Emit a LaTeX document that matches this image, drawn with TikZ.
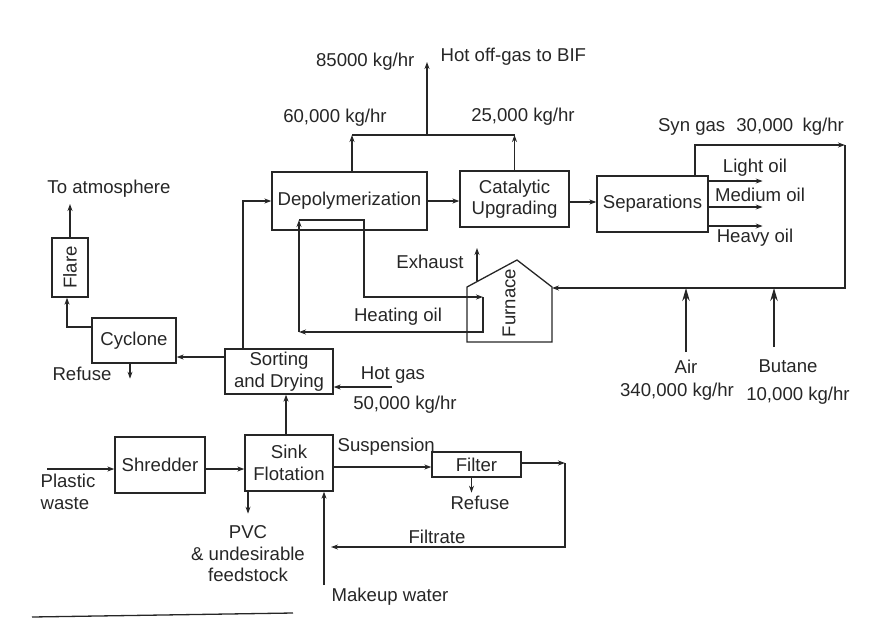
\documentclass[tikz,border=0pt]{standalone}
\usepackage{fontspec}
\setmainfont{Liberation Sans}
\usetikzlibrary{arrows.meta,calc}

\begin{document}
\begin{tikzpicture}[x=1pt,y=-1pt,line width=1.3pt,color=black!85,
        font=\fontsize{18.6}{21.5}\selectfont,
        unit/.style={draw,inner sep=2pt,align=center},
        lbl/.style={inner sep=0pt,align=center},
        flow/.style={-{Stealth[length=7pt,width=5pt]}},
        feed/.style={-{Stealth[length=13pt,width=7.5pt]}}]
        \useasboundingbox (0,0) rectangle (870,619);
        \node[unit,minimum width=155pt,minimum height=58pt] (depol) at (349.5,201) {Depolymerization};
        \node[unit,minimum width=109pt,minimum height=56pt] (catal) at (514.5,199) {Catalytic\\Upgrading};
        \node[unit,minimum width=111pt,minimum height=56pt] (separ) at (652.5,204) {Separations};
        \node[unit,minimum width=36pt,minimum height=59pt] (flare) at (70,267.5) {\rotatebox{90}{Flare}};
        \node[unit,minimum width=84pt,minimum height=45pt] (cyclone) at (134,340.5) {Cyclone};
        \node[unit,minimum width=108pt,minimum height=45pt] (sortdry) at (279,371.5) {Sorting\\and Drying};
        \node[unit,minimum width=90pt,minimum height=56pt] (shred) at (160,465) {Shredder};
        \node[unit,minimum width=88pt,minimum height=56pt] (sink) at (289,463) {Sink\\Flotation};
        \node[unit,minimum width=89pt,minimum height=25pt] (filter) at (476.5,464.5) {Filter};
        \draw (467,342) -- (467,287) -- (517,260) -- (552,287) -- (552,342) -- cycle;
        \node[lbl] (furnace) at (509,303) {\rotatebox{90}{Furnace}};
        \draw[flow] (depol.east) -- (depol.east -| catal.west);
        \draw[flow] ([yshift=-3pt]catal.east) -- ([yshift=-3pt]catal.east -| separ.west);
        \coordinate (offgas) at (427,135);
        \coordinate (offgasend) at (427,62);
        \draw[flow] ([xshift=2.5pt]depol.north) -- ([xshift=2.5pt]depol.north |- offgas);
        \draw[flow] (catal.north) -- (catal.north |- offgas);
        \draw ([xshift=2.5pt]depol.north |- offgas) -- (catal.north |- offgas);
        \draw[flow] (offgas) -- (offgasend);
        \node[lbl,anchor=east] (offrate) at (415,62) {85000 kg/hr};
        \node[lbl,anchor=west] (offgaslbl) at (440,57) {Hot off-gas to BIF};
        \node[lbl] (depolrate) at (335,118) {60,000 kg/hr};
        \node[lbl] (catalrate) at (523,117) {25,000 kg/hr};
        \draw[flow] ([xshift=-36pt]sortdry.north) |- (depol.west);
        \draw[flow] ([yshift=14.5pt]sortdry.west) -- ([yshift=14.5pt]sortdry.west -| cyclone.east);
        \draw[flow] ([yshift=13.5pt]cyclone.west) -| ([xshift=-3pt]flare.south);
        \coordinate (atmosend) at (70,204);
        \draw[flow] (flare.north) -- (atmosend);
        \node[lbl] (atmos) at (109,189) {To atmosphere};
        \draw[flow] ([xshift=-4pt]cyclone.south) -- ++(0,15);
        \node[lbl] (cyrefuse) at (82,374) {Refuse};
        \draw[flow] ([xshift=-3pt]sink.north) -- ([xshift=-3pt]sink.north |- sortdry.south);
        \coordinate (hotgas) at (392,387);
        \draw[flow] (hotgas) -- (hotgas -| sortdry.east);
        \node[lbl] (hotgaslbl) at (393,375) {Hot gas};
        \node[lbl] (hotgasrate) at (405,405) {50,000 kg/hr};
        \coordinate (plastic) at (47,469);
        \draw[flow] (plastic) -- (plastic -| shred.west);
        \node[lbl,align=left] (plasticlbl) at (68,492) {Plastic\\waste};
        \draw[flow] ([yshift=-4pt]shred.east) -- ([yshift=-4pt]shred.east -| sink.west);
        \draw[flow] ([xshift=-41pt]sink.south) -- ++(0,22);
        \node[lbl] (pvc) at (248,554) {PVC\\\& undesirable\\feedstock};
        \draw[flow] ([yshift=-4pt]sink.east) -- ([yshift=-4pt]sink.east -| filter.west);
        \node[lbl,anchor=west] (susp) at (337,447) {Suspension};
        \draw[flow] ([xshift=-5pt]filter.south) -- ++(0,15);
        \node[lbl] (firefuse) at (480,503) {Refuse};
        \coordinate (filtc) at (565,463);
        \coordinate (filtend) at (331,547);
        \draw[flow] ([yshift=1.5pt]filter.east) -- (filtc);
        \draw[flow] (filtc) |- (filtend);
        \node[lbl] (filtrate) at (437,537) {Filtrate};
        \coordinate (makeup) at (324,585);
        \draw[flow] (makeup) -- (makeup |- sink.south);
        \node[lbl] (makeuplbl) at (390,597) {Makeup water};
        \coordinate (syn1) at (845,145);
        \coordinate (syn2) at (845,288);
        \coordinate (furnE) at (552,288);
        \draw[flow] ([xshift=42.5pt]separ.north) |- (syn1);
        \draw[flow] (syn1) -- (syn2) -- (furnE);
        \node[lbl] (synlbl) at (751,127) {Syn gas\hspace{0.6em}30,000\hspace{0.5em}kg/hr};
        \draw[flow] ([yshift=23pt]separ.east) -- ++(54,0);
        \draw[flow] ([yshift=-3pt]separ.east) -- ++(54,0);
        \draw[flow] ([yshift=-22pt]separ.east) -- ++(54,0);
        \node[lbl] (light) at (755,168) {Light oil};
        \node[lbl] (medium) at (760,195) {Medium oil};
        \node[lbl] (heavy) at (755,238) {Heavy oil};
        \coordinate (air) at (686,352);
        \draw[feed] (air) -- (air |- syn2);
        \node[lbl] (airlbl) at (686,367) {Air};
        \node[lbl] (airrate) at (677,392) {340,000 kg/hr};
        \coordinate (butane) at (774,347);
        \draw[feed] (butane) -- (butane |- syn2);
        \node[lbl] (butanelbl) at (788,366) {Butane};
        \node[lbl] (butanerate) at (798,396) {10,000 kg/hr};
        \coordinate (hoTL) at (299,220);
        \coordinate (hoTR) at (364,220);
        \coordinate (hoFT) at (483,297);
        \coordinate (hoFB) at (483,332);
        \coordinate (hoBL) at (299,332);
        \draw[flow] (hoTL) -- (hoTR) -- (hoTR |- hoFT) -- (hoFT);
        \draw[flow] (hoFT) -- (hoFB) -- (hoBL);
        \draw[flow] (hoBL) -- (hoTL);
        \node[lbl] (heatlbl) at (398,317) {Heating oil};
        \coordinate (exh) at (477,281);
        \draw[flow] (exh) -- ++(0,-33);
        \node[lbl] (exhlbl) at (430,262) {Exhaust};
        \draw[line width=1.3pt] (32,617) -- (293,613);
\end{tikzpicture}
\end{document}
